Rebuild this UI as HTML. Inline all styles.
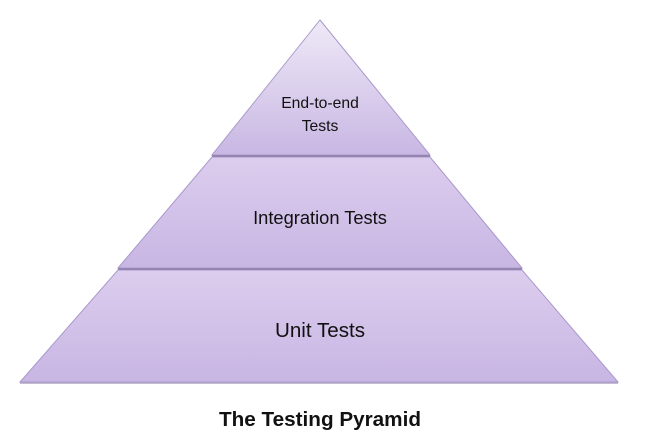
<!DOCTYPE html>
<html><head><style>
html,body{margin:0;padding:0;background:#fff;width:650px;height:444px;overflow:hidden}
svg text{font-family:"Liberation Sans",sans-serif;fill:#111}
</style></head><body>
<svg width="650" height="444" viewBox="0 0 650 444" xmlns="http://www.w3.org/2000/svg">
<defs>
<linearGradient id="g1" x1="0" y1="0" x2="0" y2="1"><stop offset="0" stop-color="#efe9f7"/><stop offset="1" stop-color="#c8b7e3"/></linearGradient>
<linearGradient id="g2" x1="0" y1="0" x2="0" y2="1"><stop offset="0" stop-color="#dccdee"/><stop offset="1" stop-color="#c8b6e3"/></linearGradient>
</defs>
<polygon points="320,20 430,155 212,155" fill="url(#g1)" stroke="#a999cc" stroke-width="1"/>
<polygon points="212,157 430,157 522,268 118,268" fill="url(#g2)" stroke="#a999cc" stroke-width="1"/>
<polygon points="118,270 522,270 618,382 20,382" fill="url(#g2)" stroke="#a999cc" stroke-width="1"/>
<line x1="212" y1="156" x2="430" y2="156" stroke="#9484b0" stroke-width="2"/>
<line x1="118" y1="269" x2="522" y2="269" stroke="#9484b0" stroke-width="2"/>
<line x1="20" y1="383" x2="618" y2="383" stroke="#b0a6c4" stroke-width="1.5"/>
<text x="320" y="108" font-size="15.7" text-anchor="middle">End-to-end</text>
<text x="320" y="131" font-size="15.7" text-anchor="middle">Tests</text>
<text x="320" y="224" font-size="18.3" text-anchor="middle">Integration Tests</text>
<text x="320" y="337" font-size="20.6" text-anchor="middle">Unit Tests</text>
<text x="320" y="426" font-size="20.7" font-weight="bold" text-anchor="middle">The Testing Pyramid</text>
</svg>
</body></html>
